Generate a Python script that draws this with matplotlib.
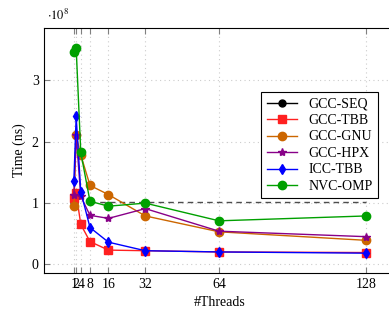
import numpy as np
import matplotlib
matplotlib.use("Agg")
import matplotlib.pyplot as plt

plt.rcParams['font.family'] = ['Liberation Serif', 'DejaVu Serif']
plt.rcParams['mathtext.fontset'] = 'stix'

threads = [1, 2, 4, 8, 16, 32, 64, 128]

# times in ns
seq_time = 1.01e8
gcc_tbb = [1.07e8, 1.15e8, 0.64e8, 0.36e8, 0.22e8, 0.21e8, 0.19e8, 0.18e8]
gcc_gnu = [0.95e8, 2.10e8, 1.78e8, 1.28e8, 1.13e8, 0.78e8, 0.52e8, 0.38e8]
gcc_hpx = [1.12e8, 2.10e8, 1.10e8, 0.79e8, 0.74e8, 0.90e8, 0.53e8, 0.44e8]
icc_tbb = [1.35e8, 2.41e8, 1.18e8, 0.59e8, 0.35e8, 0.21e8, 0.19e8, 0.17e8]
nvc_omp = [3.46e8, 3.53e8, 1.82e8, 1.02e8, 0.94e8, 0.99e8, 0.70e8, 0.78e8]

scale = 1e8

fig = plt.figure(figsize=(3.89, 3.13), dpi=100)
ax = fig.add_axes([0.1123, 0.1288, 0.905, 0.7817])

ax.grid(True, linestyle=(0, (1, 3)), color='0.8', linewidth=0.8)
ax.set_axisbelow(True)

ax.plot([1], [seq_time / scale], '-', color='black', marker='o', ms=5,
        lw=1, label='GCC-SEQ')
ax.hlines(seq_time / scale, 8, 128, colors='0.3', linestyles=(0, (4, 3)), lw=1)
ax.plot(threads, np.array(gcc_tbb) / scale, '-', color='#ff2020', marker='s',
        ms=5.5, lw=1, label='GCC-TBB')
ax.plot(threads, np.array(gcc_gnu) / scale, '-', color='#cc6600', marker='o',
        ms=6, lw=1, label='GCC-GNU')
ax.plot(threads, np.array(gcc_hpx) / scale, '-', color='#880088', marker='*',
        ms=6, lw=1, label='GCC-HPX')
ax.plot(threads, np.array(icc_tbb) / scale, '-', color='#0000ff', marker='d',
        ms=5, lw=1, label='ICC-TBB')
ax.plot(threads, np.array(nvc_omp) / scale, '-', color='#00a000', marker='o',
        ms=6, lw=1, label='NVC-OMP')

ax.set_xlim(-12.1, 140.7)
ax.set_ylim(-0.15, 3.86)
ax.set_xticks(threads)
ax.set_xticklabels([str(t) for t in threads])
ax.set_yticks([0, 1, 2, 3])
ax.tick_params(direction='in', length=4, color='0.5', labelsize=10,
               top=True, right=False)
for s in ax.spines.values():
    s.set_linewidth(0.8)
ax.spines['right'].set_visible(False)

ax.set_xlabel('#Threads', fontsize=10)
ax.set_ylabel('Time (ns)', fontsize=10)
ax.text(0.01, 1.02, r'$\cdot 10^8$', transform=ax.transAxes, fontsize=9,
        va='bottom', ha='left')

leg = ax.legend(loc='upper right', bbox_to_anchor=(378 / 389, 1 - 92 / 313),
                bbox_transform=fig.transFigure, borderaxespad=0,
                fancybox=False, edgecolor='black', framealpha=1, fontsize=10,
                handlelength=2.2, labelspacing=0.25, borderpad=0.4)
leg.get_frame().set_linewidth(0.8)

fig.savefig('out.png', dpi=100)
